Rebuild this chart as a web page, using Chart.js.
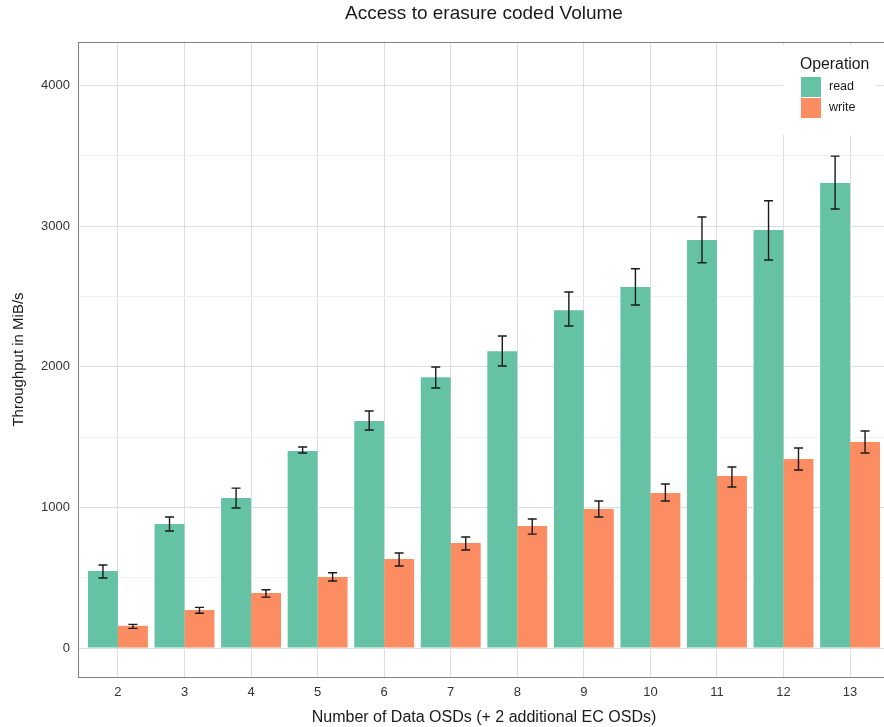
<!DOCTYPE html>
<html>
<head>
<meta charset="utf-8">
<script src="https://cdn.jsdelivr.net/npm/chart.js@4/dist/chart.umd.min.js"></script>
<style>
  html, body { margin: 0; padding: 0; background: #fff; overflow: hidden; }
  #wrap { width: 968px; height: 727px; }
</style>
</head>
<body>
<div id="wrap"><canvas id="chart" width="968" height="727"></canvas></div>
<script>
// data OSD counts
const osds = [2, 3, 4, 5, 6, 7, 8, 9, 10, 11, 12, 13];

// read throughput (MiB/s) with error range
const readMean = [547, 881, 1066, 1400, 1613, 1925, 2110, 2401, 2566, 2900, 2971, 3306];
const readLow  = [498, 832, 995, 1386, 1550, 1848, 2005, 2289, 2438, 2739, 2758, 3121];
const readHigh = [590, 931, 1137, 1429, 1685, 1998, 2218, 2531, 2696, 3064, 3180, 3497];

// write throughput (MiB/s) with error range
const writeMean = [158, 270, 391, 505, 633, 746, 867, 988, 1102, 1223, 1344, 1464];
const writeLow  = [140, 247, 362, 476, 583, 697, 810, 931, 1045, 1145, 1265, 1386];
const writeHigh = [168, 289, 414, 535, 675, 789, 917, 1045, 1166, 1287, 1422, 1543];

const yTicks = [0, 500, 1000, 1500, 2000, 2500, 3000, 3500, 4000];

const chartTitle = 'Access to erasure coded Volume';
const readColor = '#66c2a5';
const writeColor = '#fc8d62';
const font = "'Liberation Sans', Arial, sans-serif";

// error bars drawn on top of the bars
const errorBars = {
   id: 'errorBars',
   afterDatasetsDraw(chart) {
      const c = chart.ctx;
      const y = chart.scales.y;
      c.save();
      c.strokeStyle = '#1a1a1a';
      c.lineWidth = 1.4;
      chart.data.datasets.forEach((ds, di) => {
         const meta = chart.getDatasetMeta(di);
         meta.data.forEach((bar, i) => {
            const top = y.getPixelForValue(ds.errHigh[i]);
            const bot = y.getPixelForValue(ds.errLow[i]);
            const x = bar.x;
            c.beginPath();
            c.moveTo(x, top); c.lineTo(x, bot);
            c.moveTo(x - 4.5, top); c.lineTo(x + 4.5, top);
            c.moveTo(x - 4.5, bot); c.lineTo(x + 4.5, bot);
            c.stroke();
         });
      });
      c.restore();
   }
};

// panel border, title over the panel, legend inside the panel
const panel = {
   id: 'panel',
   afterDraw(chart) {
      const c = chart.ctx;
      const a = chart.chartArea;
      c.save();
      c.strokeStyle = '#7f7f7f';
      c.lineWidth = 1;
      c.strokeRect(a.left + 0.5, a.top + 0.5, a.right - a.left, a.bottom - a.top);

      c.fillStyle = '#1a1a1a';
      c.font = '19px ' + font;
      c.textAlign = 'center';
      c.textBaseline = 'middle';
      c.fillText(chartTitle, (a.left + a.right) / 2, 14);

      const lx = a.right - 107;
      const ly = a.top + 3;
      c.textAlign = 'left';
      c.fillStyle = '#fff';
      c.fillRect(lx, ly, 92, 90);
      c.fillStyle = '#1a1a1a';
      c.font = '15.8px ' + font;
      c.fillText('Operation', lx + 17, ly + 20);
      c.font = '12.5px ' + font;
      chart.data.datasets.forEach((ds, i) => {
         c.fillStyle = ds.backgroundColor;
         c.fillRect(lx + 18, ly + 32 + i * 21, 20, 20);
         c.fillStyle = '#1a1a1a';
         c.fillText(ds.label, lx + 46, ly + 42 + i * 21);
      });
      c.restore();
   }
};

new Chart(document.getElementById('chart'), {
   type: 'bar',
   data: {
      datasets: [
         {
            label: 'read',
            data: osds.map((x, i) => ({ x: x, y: readMean[i] })),
            errLow: readLow,
            errHigh: readHigh,
            backgroundColor: readColor
         },
         {
            label: 'write',
            data: osds.map((x, i) => ({ x: x, y: writeMean[i] })),
            errLow: writeLow,
            errHigh: writeHigh,
            backgroundColor: writeColor
         }
      ]
   },
   options: {
      responsive: false,
      animation: false,
      devicePixelRatio: 1,
      categoryPercentage: 0.9,
      barPercentage: 1,
      layout: { padding: { left: 10, right: 78, top: 42, bottom: 0 } },
      plugins: {
         legend: { display: false },
         tooltip: { enabled: false },
         title: { display: false }
      },
      scales: {
         x: {
            type: 'linear',
            min: 1.4,
            max: 13.6,
            offset: false,
            afterBuildTicks: s => { s.ticks = osds.map(v => ({ value: v })); },
            afterFit: s => { s.height = 50; },
            grid: { color: '#dedede', lineWidth: 1, drawTicks: false, offset: false },
            border: { display: false },
            ticks: { color: '#333', font: { family: font, size: 13 }, padding: 8 },
            title: {
               display: true,
               text: 'Number of Data OSDs (+ 2 additional EC OSDs)',
               color: '#1a1a1a',
               font: { family: font, size: 16 },
               padding: { top: 3, bottom: 0 }
            }
         },
         y: {
            min: -206,
            max: 4308,
            afterBuildTicks: s => { s.ticks = yTicks.map(v => ({ value: v })); },
            afterFit: s => { s.width = 68; },
            grid: {
               color: ctx => (ctx.tick && ctx.tick.value % 1000 === 0) ? '#dedede' : '#f0f0f0',
               lineWidth: 1,
               drawTicks: false
            },
            border: { display: false },
            ticks: {
               color: '#333',
               font: { family: font, size: 13 },
               padding: 8,
               callback: v => (v % 1000 === 0 ? String(v) : '')
            },
            title: {
               display: true,
               text: 'Throughput in MiB/s',
               color: '#1a1a1a',
               font: { family: font, size: 15 },
               padding: { top: 0, bottom: 0 }
            }
         }
      }
   },
   plugins: [errorBars, panel]
});
</script>
</body>
</html>
